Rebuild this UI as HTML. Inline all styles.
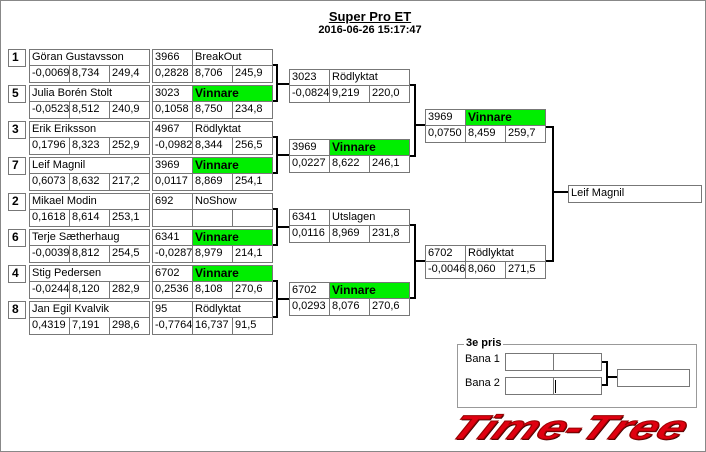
<!DOCTYPE html>
<html><head><meta charset="utf-8"><style>
body{margin:0;width:706px;height:452px;position:relative;background:#fff;overflow:hidden;font-family:"Liberation Sans",sans-serif;font-size:11px;color:#000}
.frame{position:absolute;left:0;top:0;width:704px;height:450px;border:1px solid #888}
.c{position:absolute;border:1px solid #777;box-sizing:border-box;height:18px;line-height:15px;padding-left:2px;background:#fff;white-space:nowrap;overflow:hidden}
.s{position:absolute;border:1px solid #777;box-sizing:border-box;width:18px;height:18px;font-weight:bold;font-size:12px;line-height:15px;padding-left:3px}
.g{background:#00ee00;font-weight:bold;font-size:12px}
.h{position:absolute;background:#000;height:2px}
.v{position:absolute;background:#000;width:2px}
.t{position:absolute;font-weight:bold;text-align:center;width:300px;left:220px}
</style></head><body>
<div class="frame"></div>
<div class="t" style="top:9px;font-size:13px;text-decoration:underline">Super Pro ET</div>
<div class="t" style="top:24px;font-size:11px">2016-06-26 15:17:47</div>

<div class="s" style="left:8px;top:49px">1</div>
<div class="c" style="left:29px;top:49px;width:121px">Göran Gustavsson</div>
<div class="c" style="left:29px;top:65px;width:41px">-0,0069</div><div class="c" style="left:69px;top:65px;width:41px">8,734</div><div class="c" style="left:109px;top:65px;width:41px">249,4</div>
<div class="c" style="left:152px;top:49px;width:41px">3966</div><div class="c" style="left:192px;top:49px;width:81px">BreakOut</div>
<div class="c" style="left:152px;top:65px;width:41px">0,2828</div><div class="c" style="left:192px;top:65px;width:41px">8,706</div><div class="c" style="left:232px;top:65px;width:41px">245,9</div>
<div class="s" style="left:8px;top:85px">5</div>
<div class="c" style="left:29px;top:85px;width:121px">Julia Borén Stolt</div>
<div class="c" style="left:29px;top:101px;width:41px">-0,0523</div><div class="c" style="left:69px;top:101px;width:41px">8,512</div><div class="c" style="left:109px;top:101px;width:41px">240,9</div>
<div class="c" style="left:152px;top:85px;width:41px">3023</div><div class="c g" style="left:192px;top:85px;width:81px">Vinnare</div>
<div class="c" style="left:152px;top:101px;width:41px">0,1058</div><div class="c" style="left:192px;top:101px;width:41px">8,750</div><div class="c" style="left:232px;top:101px;width:41px">234,8</div>

<div class="s" style="left:8px;top:121px">3</div>
<div class="c" style="left:29px;top:121px;width:121px">Erik Eriksson</div>
<div class="c" style="left:29px;top:137px;width:41px">0,1796</div><div class="c" style="left:69px;top:137px;width:41px">8,323</div><div class="c" style="left:109px;top:137px;width:41px">252,9</div>
<div class="c" style="left:152px;top:121px;width:41px">4967</div><div class="c" style="left:192px;top:121px;width:81px">Rödlyktat</div>
<div class="c" style="left:152px;top:137px;width:41px">-0,0982</div><div class="c" style="left:192px;top:137px;width:41px">8,344</div><div class="c" style="left:232px;top:137px;width:41px">256,5</div>
<div class="s" style="left:8px;top:157px">7</div>
<div class="c" style="left:29px;top:157px;width:121px">Leif Magnil</div>
<div class="c" style="left:29px;top:173px;width:41px">0,6073</div><div class="c" style="left:69px;top:173px;width:41px">8,632</div><div class="c" style="left:109px;top:173px;width:41px">217,2</div>
<div class="c" style="left:152px;top:157px;width:41px">3969</div><div class="c g" style="left:192px;top:157px;width:81px">Vinnare</div>
<div class="c" style="left:152px;top:173px;width:41px">0,0117</div><div class="c" style="left:192px;top:173px;width:41px">8,869</div><div class="c" style="left:232px;top:173px;width:41px">254,1</div>

<div class="s" style="left:8px;top:193px">2</div>
<div class="c" style="left:29px;top:193px;width:121px">Mikael Modin</div>
<div class="c" style="left:29px;top:209px;width:41px">0,1618</div><div class="c" style="left:69px;top:209px;width:41px">8,614</div><div class="c" style="left:109px;top:209px;width:41px">253,1</div>
<div class="c" style="left:152px;top:193px;width:41px">692</div><div class="c" style="left:192px;top:193px;width:81px">NoShow</div>
<div class="c" style="left:152px;top:209px;width:41px"></div><div class="c" style="left:192px;top:209px;width:41px"></div><div class="c" style="left:232px;top:209px;width:41px"></div>
<div class="s" style="left:8px;top:229px">6</div>
<div class="c" style="left:29px;top:229px;width:121px">Terje Sætherhaug</div>
<div class="c" style="left:29px;top:245px;width:41px">-0,0039</div><div class="c" style="left:69px;top:245px;width:41px">8,812</div><div class="c" style="left:109px;top:245px;width:41px">254,5</div>
<div class="c" style="left:152px;top:229px;width:41px">6341</div><div class="c g" style="left:192px;top:229px;width:81px">Vinnare</div>
<div class="c" style="left:152px;top:245px;width:41px">-0,0287</div><div class="c" style="left:192px;top:245px;width:41px">8,979</div><div class="c" style="left:232px;top:245px;width:41px">214,1</div>

<div class="s" style="left:8px;top:265px">4</div>
<div class="c" style="left:29px;top:265px;width:121px">Stig Pedersen</div>
<div class="c" style="left:29px;top:281px;width:41px">-0,0244</div><div class="c" style="left:69px;top:281px;width:41px">8,120</div><div class="c" style="left:109px;top:281px;width:41px">282,9</div>
<div class="c" style="left:152px;top:265px;width:41px">6702</div><div class="c g" style="left:192px;top:265px;width:81px">Vinnare</div>
<div class="c" style="left:152px;top:281px;width:41px">0,2536</div><div class="c" style="left:192px;top:281px;width:41px">8,108</div><div class="c" style="left:232px;top:281px;width:41px">270,6</div>
<div class="s" style="left:8px;top:301px">8</div>
<div class="c" style="left:29px;top:301px;width:121px">Jan Egil Kvalvik</div>
<div class="c" style="left:29px;top:317px;width:41px">0,4319</div><div class="c" style="left:69px;top:317px;width:41px">7,191</div><div class="c" style="left:109px;top:317px;width:41px">298,6</div>
<div class="c" style="left:152px;top:301px;width:41px">95</div><div class="c" style="left:192px;top:301px;width:81px">Rödlyktat</div>
<div class="c" style="left:152px;top:317px;width:41px">-0,7764</div><div class="c" style="left:192px;top:317px;width:41px">16,737</div><div class="c" style="left:232px;top:317px;width:41px">91,5</div>

<div class="h" style="left:273px;top:64px;width:5px"></div><div class="v" style="left:276px;top:64px;height:38px"></div><div class="h" style="left:273px;top:100px;width:5px"></div><div class="h" style="left:276px;top:83px;width:13px"></div>
<div class="h" style="left:273px;top:136px;width:5px"></div><div class="v" style="left:276px;top:136px;height:38px"></div><div class="h" style="left:273px;top:172px;width:5px"></div><div class="h" style="left:276px;top:154px;width:13px"></div>
<div class="h" style="left:273px;top:208px;width:5px"></div><div class="v" style="left:276px;top:208px;height:38px"></div><div class="h" style="left:273px;top:244px;width:5px"></div><div class="h" style="left:276px;top:226px;width:13px"></div>
<div class="h" style="left:273px;top:280px;width:5px"></div><div class="v" style="left:276px;top:280px;height:38px"></div><div class="h" style="left:273px;top:316px;width:5px"></div><div class="h" style="left:276px;top:298px;width:13px"></div>

<div class="c" style="left:289px;top:69px;width:41px">3023</div><div class="c" style="left:329px;top:69px;width:81px">Rödlyktat</div>
<div class="c" style="left:289px;top:85px;width:41px">-0,0824</div><div class="c" style="left:329px;top:85px;width:41px">9,219</div><div class="c" style="left:369px;top:85px;width:41px">220,0</div>
<div class="c" style="left:289px;top:139px;width:41px">3969</div><div class="c g" style="left:329px;top:139px;width:81px">Vinnare</div>
<div class="c" style="left:289px;top:155px;width:41px">0,0227</div><div class="c" style="left:329px;top:155px;width:41px">8,622</div><div class="c" style="left:369px;top:155px;width:41px">246,1</div>
<div class="c" style="left:289px;top:209px;width:41px">6341</div><div class="c" style="left:329px;top:209px;width:81px">Utslagen</div>
<div class="c" style="left:289px;top:225px;width:41px">0,0116</div><div class="c" style="left:329px;top:225px;width:41px">8,969</div><div class="c" style="left:369px;top:225px;width:41px">231,8</div>
<div class="c" style="left:289px;top:282px;width:41px">6702</div><div class="c g" style="left:329px;top:282px;width:81px">Vinnare</div>
<div class="c" style="left:289px;top:298px;width:41px">0,0293</div><div class="c" style="left:329px;top:298px;width:41px">8,076</div><div class="c" style="left:369px;top:298px;width:41px">270,6</div>

<div class="h" style="left:410px;top:84px;width:6px"></div><div class="v" style="left:414px;top:84px;height:73px"></div><div class="h" style="left:410px;top:155px;width:6px"></div><div class="h" style="left:414px;top:124px;width:11px"></div>
<div class="h" style="left:410px;top:224px;width:6px"></div><div class="v" style="left:414px;top:224px;height:75px"></div><div class="h" style="left:410px;top:297px;width:6px"></div><div class="h" style="left:414px;top:260px;width:11px"></div>

<div class="c" style="left:425px;top:109px;width:41px">3969</div><div class="c g" style="left:465px;top:109px;width:81px">Vinnare</div>
<div class="c" style="left:425px;top:125px;width:41px">0,0750</div><div class="c" style="left:465px;top:125px;width:41px">8,459</div><div class="c" style="left:505px;top:125px;width:41px">259,7</div>
<div class="c" style="left:425px;top:245px;width:41px">6702</div><div class="c" style="left:465px;top:245px;width:81px">Rödlyktat</div>
<div class="c" style="left:425px;top:261px;width:41px">-0,0046</div><div class="c" style="left:465px;top:261px;width:41px">8,060</div><div class="c" style="left:505px;top:261px;width:41px">271,5</div>

<div class="h" style="left:546px;top:126px;width:8px"></div><div class="v" style="left:552px;top:126px;height:136px"></div><div class="h" style="left:546px;top:260px;width:8px"></div><div class="h" style="left:552px;top:191px;width:17px"></div>
<div class="c" style="left:568px;top:185px;width:134px">Leif Magnil</div>

<div style="position:absolute;left:457px;top:344px;width:240px;height:64px;border:1px solid #999;box-sizing:border-box"></div>
<div style="position:absolute;left:464px;top:337px;background:#fff;padding:0 2px;font-weight:bold;font-size:11px">3e pris</div>
<div style="position:absolute;left:465px;top:353px">Bana 1</div>
<div style="position:absolute;left:465px;top:377px">Bana 2</div>
<div class="c" style="left:505px;top:353px;width:49px"></div><div class="c" style="left:553px;top:353px;width:49px"></div>
<div class="c" style="left:505px;top:377px;width:49px"></div><div class="c" style="left:553px;top:377px;width:49px"></div>
<div style="position:absolute;left:555px;top:380px;width:1px;height:13px;background:#000"></div>
<div class="h" style="left:602px;top:361px;width:6px"></div><div class="v" style="left:606px;top:361px;height:25px"></div><div class="h" style="left:602px;top:384px;width:6px"></div><div class="h" style="left:606px;top:376px;width:11px"></div>
<div class="c" style="left:617px;top:369px;width:73px"></div>

<div style="position:absolute;left:462px;top:410px;font-weight:bold;font-style:italic;font-size:34px;color:#e00010;letter-spacing:0px;transform-origin:0 0;transform:scaleX(1.45) skewX(-20deg);-webkit-text-stroke:1px #900;text-shadow:1px 1px 0 #300;line-height:36px;white-space:nowrap">Time-Tree</div>
</body></html>
